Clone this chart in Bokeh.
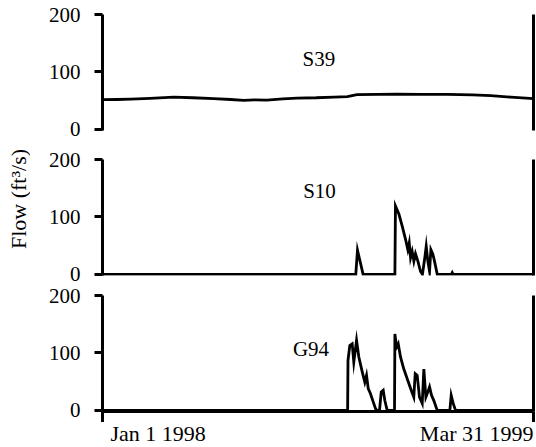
import math
from bokeh.plotting import figure
from bokeh.layouts import column, row
from bokeh.models import Range1d, LinearAxis, FixedTicker
from bokeh.core.properties import value
from bokeh.embed import file_html
from bokeh.resources import INLINE

# ---- data (x = days since Jan 1 1998) ----
x_tick_days = [0, 454]
x_tick_labels = ["Jan 1 1998", "Mar 31 1999"]
y_ticks = [0, 100, 200]

s39_days = [0, 15, 30, 50, 75, 95, 117, 135, 149, 160, 173, 190, 205, 225, 244,
            258, 268, 290, 310, 335, 363, 390, 409, 430, 454]
s39_flow = [51.6, 52, 52.7, 54, 56.2, 55, 53.4, 52, 50.4, 51.5, 51, 53, 54.5, 55, 56.2,
            57, 60.3, 60.8, 61.4, 61, 60.9, 60, 58.6, 56, 53.4]

s10_days = [0, 266.8, 268.6, 274.5, 308.0, 308.6, 312.2, 315.7, 319.2, 321.6, 323.1,
            324.5, 326.2, 328.0, 329.7, 332.2, 335.0, 337.0, 339.5, 341.0, 342.7,
            344.5, 345.9, 348.0, 349.7, 352.6, 367.5, 368.4, 369.3, 454]
s10_flow = [0, 0, 42, 0, 0, 119, 105, 84, 61, 43, 55, 29, 40, 23, 36, 23, 5, 0, 29,
            49, 23, 5, 43, 35, 23, 0, 0, 3, 0, 0]

g94_days = [0, 258.2, 258.6, 260.5, 263.0, 264.7, 267.6, 270.0, 273.6, 276.3,
            278.1, 279.9, 282.3, 284.7, 287.6, 289, 291.8, 293.6, 295.7, 297.4,
            299.9, 307.6, 308.0, 309.7, 311.5, 313.9, 317.4, 321.6, 325.2, 327.9,
            329.4, 331.5, 333.9, 336.8, 338.5, 340.6, 342.7, 344.5, 346.6, 349.0,
            352.6, 365.9, 367.3, 369.4, 371.9, 454]
g94_flow = [0, 0, 87, 113, 116, 84, 122, 93, 67, 49,
            61, 38, 29, 17, 3, 0, 0, 32, 35, 17,
            0, 0, 133, 110, 116, 93, 72, 52, 35, 23,
            64, 61, 23, 12, 72, 23, 32, 41, 26, 17,
            0, 0, 26, 12, 0, 0]

station_names = ["S39", "S10", "G94"]
y_label = "Flow (ft\u00b3/s)"

FONT = "Liberation Serif"
FS = "21px"
FS_BIG = "22px"
W = 506
LEFT = 72
RIGHT = 3

x_range = Range1d(x_tick_days[0], x_tick_days[-1])


def clean(p):
    p.xgrid.visible = False
    p.ygrid.visible = False
    p.outline_line_color = None
    p.background_fill_color = "white"
    p.border_fill_color = "white"


def make_panel(height, top, bottom, show_x):
    p = figure(width=W, height=height, output_backend="svg", toolbar_location=None,
               x_range=x_range, y_range=Range1d(-2, 200),
               min_border_left=LEFT, min_border_right=RIGHT, min_border_top=top,
               min_border_bottom=bottom)
    clean(p)

    ya = p.yaxis[0]
    ya.ticker = FixedTicker(ticks=y_ticks)
    ya.axis_line_width = 3
    ya.major_tick_line_width = 3
    ya.major_tick_out = 8
    ya.major_tick_in = 0
    ya.minor_tick_line_color = None
    ya.major_label_standoff = 14
    ya.major_label_text_font = FONT
    ya.major_label_text_font_size = FS
    ya.major_label_text_color = "black"

    ra = LinearAxis(ticker=FixedTicker(ticks=[]), axis_line_width=3,
                    major_tick_out=0, major_tick_in=0, minor_tick_line_color=None,
                    major_label_text_color=None, major_label_standoff=0)
    p.add_layout(ra, "right")

    xa = p.xaxis[0]
    if show_x:
        xa.ticker = FixedTicker(ticks=x_tick_days)
        xa.axis_line_width = 3
        xa.major_tick_line_width = 3
        xa.major_tick_out = 11
        xa.major_tick_in = 0
        xa.minor_tick_line_color = None
        xa.major_label_text_color = None
        xa.major_label_text_font_size = "1px"
        xa.major_label_standoff = 0
    else:
        xa.visible = False
    return p


def station_label(p, x, y, name):
    p.text(x=[x], y=[y], text=[name], text_align="center", text_baseline="middle",
           text_font=value(FONT), text_font_size=FS, text_color="black")


p1 = make_panel(144, 14, 14, False)
p1.line(s39_days, s39_flow, line_color="black", line_width=2.8, line_join="miter")
station_label(p1, 228, 122, station_names[0])

p2 = make_panel(141, 15, 10, False)
p2.line(s10_days, s10_flow, line_color="black", line_width=2.8, line_join="miter")
station_label(p2, 228.6, 145, station_names[1])

p3 = make_panel(137, 10, 11, True)
p3.line(g94_days, g94_flow, line_color="black", line_width=2.8, line_join="miter")
station_label(p3, 219.6, 107, station_names[2])

# strip with the date labels under the bottom panel (y in pixels above its bottom)
p4 = figure(width=W, height=25, output_backend="svg", toolbar_location=None,
            x_range=x_range, y_range=Range1d(-14, 11),
            min_border_left=LEFT, min_border_right=RIGHT, min_border_top=0,
            min_border_bottom=0)
clean(p4)
p4.xaxis.visible = False
p4.yaxis.visible = False
p4.text(x=[x_tick_days[0]], y=[0], text=[x_tick_labels[0]], text_align="left",
        text_baseline="middle", x_offset=8,
        text_font=value(FONT), text_font_size=FS_BIG, text_color="black")
p4.text(x=[x_tick_days[1]], y=[0], text=[x_tick_labels[1]], text_align="right",
        text_baseline="middle",
        text_font=value(FONT), text_font_size=FS_BIG, text_color="black")

# strip with the y-axis title
pl = figure(width=30, height=447, output_backend="svg", toolbar_location=None,
            x_range=Range1d(0, 30), y_range=Range1d(447, 0),
            min_border_left=0, min_border_right=0, min_border_top=0,
            min_border_bottom=0)
clean(pl)
pl.xaxis.visible = False
pl.yaxis.visible = False
pl.text(x=[18], y=[198.5], text=[y_label], angle=math.pi / 2, text_align="center",
        text_baseline="middle", text_font=value(FONT), text_font_size=FS_BIG,
        text_color="black")

layout = row(pl, column(p1, p2, p3, p4, spacing=0), spacing=0)
open("out.html", "w").write(file_html(layout, INLINE))
